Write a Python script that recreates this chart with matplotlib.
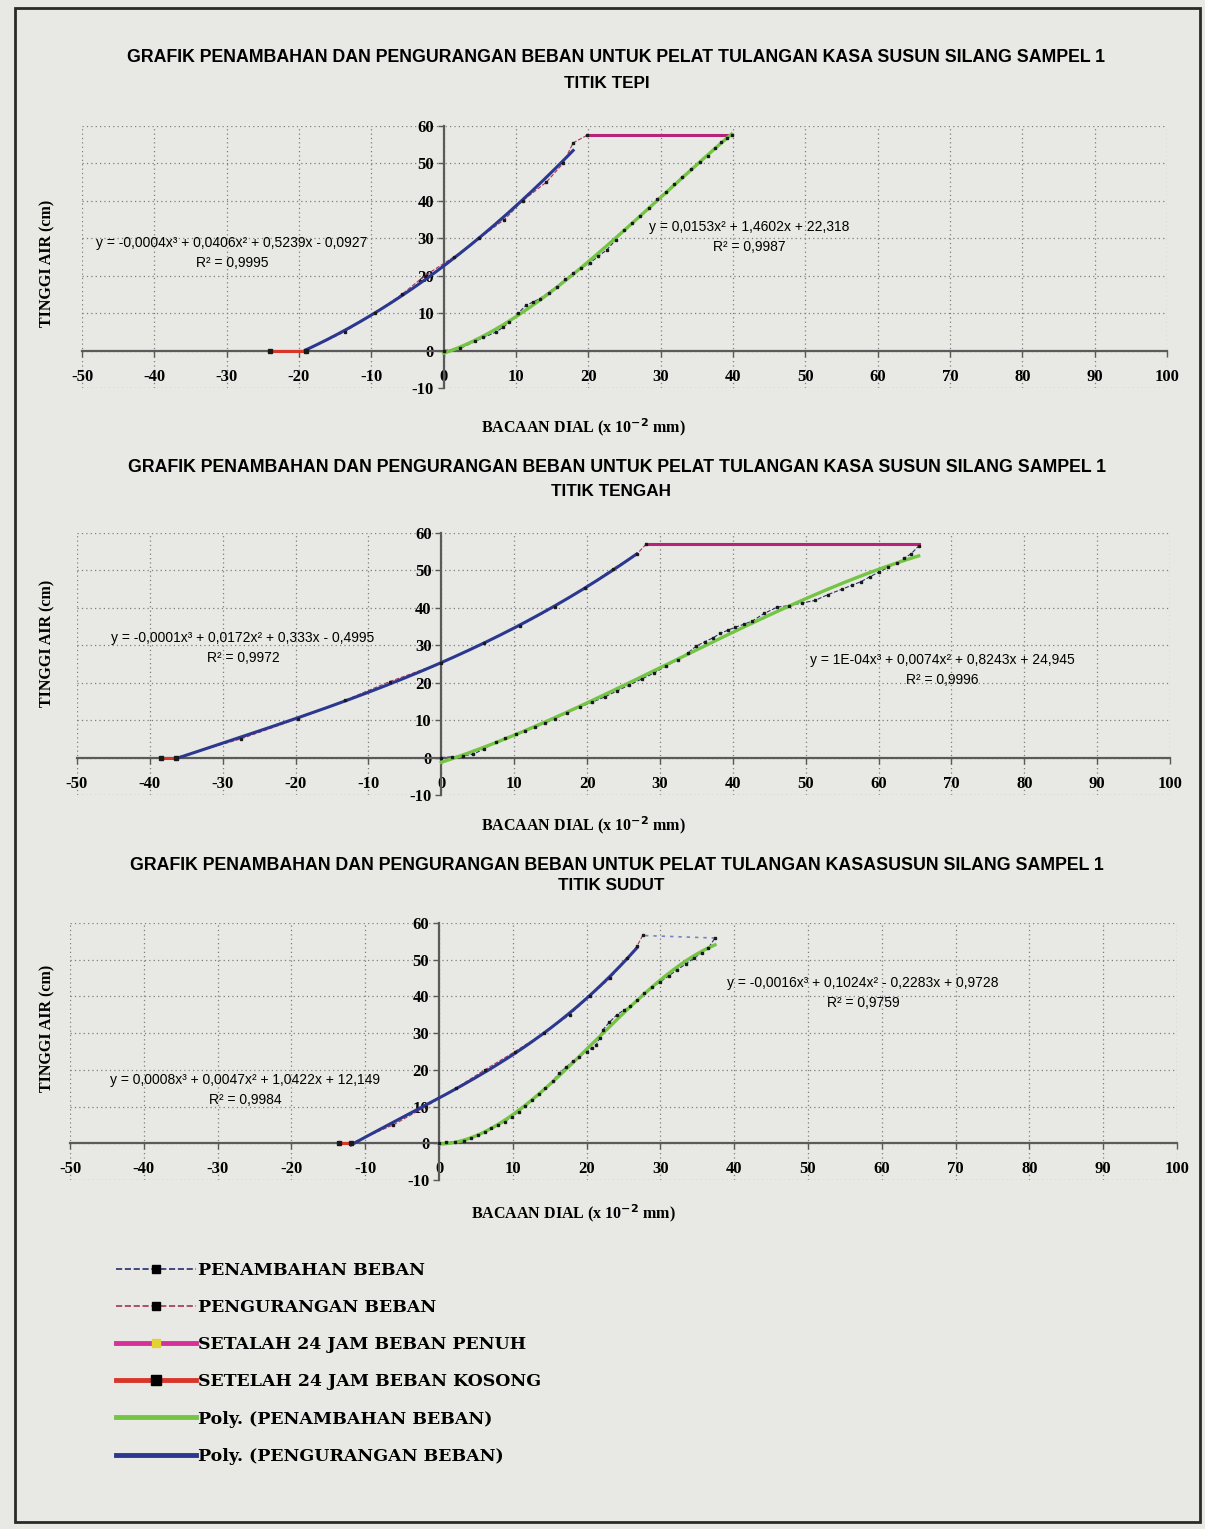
import matplotlib
matplotlib.use('Agg')
import matplotlib.pyplot as plt
from matplotlib.lines import Line2D
from matplotlib.patches import Rectangle
import numpy as np

W, H = 1205, 1529

# ---- data (x = dial reading x10^-2 mm, y = tinggi air cm)
x_ticks = list(range(-50, 101, 10))
y_ticks = list(range(-10, 61, 10))

# chart 1 - titik tepi
ld1_x = [0, 2.3, 4.4, 5.5, 7.2, 8.2, 9.1, 10.3, 11.4, 12.4, 13.3, 14.5, 15.6, 16.8, 17.9, 19.0, 20.2, 21.4,
         22.6, 23.8, 24.9, 26.0, 27.2, 28.4, 29.5, 30.7, 31.9, 33.0, 34.2, 35.4, 36.5, 37.5, 38.4, 39.2, 39.8]
ld1_y = [0, 0.6, 2.5, 3.5, 4.9, 6.2, 7.6, 10.0, 12.1, 13.0, 13.9, 15.5, 17.1, 19.0, 20.7, 22.0, 23.4, 25.2,
         27.0, 29.6, 32.3, 34.0, 35.9, 38.2, 40.4, 42.4, 44.5, 46.5, 48.5, 50.3, 52.1, 54.0, 55.7, 56.8, 57.5]
hold1_x = [39.8, 19.8]
hold1_y = [57.5, 57.5]
ul1_x = [19.8, 17.9, 16.5, 14.2, 10.9, 8.4, 4.9, 1.4, -2.6, -5.8, -9.5, -13.7, -19.1]
ul1_y = [57.5, 55.5, 50, 45, 40, 35, 30, 25, 20, 15, 10, 5, 0]
kos1_x = [-19.1, -24.0]
kos1_y = [0, 0]
eq1 = [("y = -0,0004x³ + 0,0406x² + 0,5239x - 0,0927", "R² = 0,9995"),
       ("y = 0,0153x² + 1,4602x + 22,318", "R² = 0,9987")]

# chart 2 - titik tengah
ld2_x = [0, 1.5, 3.0, 4.4, 5.8, 7.5, 8.8, 10.2, 11.5, 12.9, 14.2, 15.6, 17.3, 19.0, 20.7, 22.4, 24.1, 25.8,
         27.5, 29.2, 30.8, 32.5, 33.8, 35.0, 36.2, 37.3, 38.3, 39.3, 40.3, 41.5, 42.7, 44.3, 46.1, 47.7, 49.5,
         51.3, 53.0, 55.0, 56.3, 57.6, 58.8, 60.0, 61.3, 62.5, 63.5, 64.5, 65.5]
ld2_y = [0, 0.2, 0.5, 0.9, 2.3, 4.1, 5.2, 6.3, 7.2, 8.1, 9.2, 10.4, 12.0, 13.5, 14.8, 16.2, 17.8, 19.4,
         21.0, 22.6, 24.4, 26.2, 27.9, 29.8, 31.0, 32.0, 33.2, 34.0, 34.8, 35.6, 36.5, 38.5, 40.2, 40.6, 41.3,
         42.0, 43.5, 45.0, 46.0, 47.0, 48.3, 49.5, 50.8, 52.0, 53.2, 54.5, 56.5]
hold2_x = [65.5, 28.1]
hold2_y = [57, 57]
ul2_x = [28.1, 26.8, 23.6, 19.7, 15.6, 10.8, 5.8, 0, -7.1, -13.2, -19.7, -27.5, -36.4]
ul2_y = [57, 54.3, 50.5, 45.3, 40.3, 35.2, 30.5, 25.3, 20.3, 15.3, 10.4, 5, 0]
kos2_x = [-36.4, -38.5]
kos2_y = [0, 0]
eq2 = [("y = -0,0001x³ + 0,0172x² + 0,333x - 0,4995", "R² = 0,9972"),
       ("y = 1E-04x³ + 0,0074x² + 0,8243x + 24,945", "R² = 0,9996")]

# chart 3 - titik sudut
ld3_x = [0, 1.0, 2.2, 3.4, 4.4, 5.3, 6.2, 7.1, 8.0, 8.9, 9.9, 10.8, 11.7, 12.6, 13.5, 14.4, 15.4, 16.3, 17.2,
         18.1, 19.0, 20.0, 20.7, 21.3, 21.8, 22.2, 23.1, 24.1, 25.0, 25.9, 26.8, 27.8, 28.9, 30.0, 31.2, 32.3,
         33.5, 34.6, 35.6, 36.5, 37.4]
ld3_y = [0, 0.3, 0.4, 0.6, 1.4, 2.3, 3.2, 4.1, 5.0, 5.9, 7.2, 8.6, 10.2, 11.8, 13.4, 15.0, 17.0, 19.1, 20.7,
         22.3, 23.6, 25.0, 25.9, 26.8, 28.8, 30.9, 33.0, 35.0, 36.2, 37.3, 39.0, 40.9, 42.5, 44.0, 45.7, 47.3,
         48.9, 50.5, 51.9, 53.2, 55.9]
hold3_x = [37.4, 27.6]
hold3_y = [55.9, 56.6]
ul3_x = [27.6, 26.8, 25.5, 23.2, 20.4, 17.7, 14.2, 10.3, 6.2, 2.3, -1.8, -6.2, -11.9]
ul3_y = [56.6, 53.6, 50.5, 45, 40, 35, 30, 25, 20, 15, 10, 5, 0]
kos3_x = [-11.9, -13.6]
kos3_y = [0, 0]
eq3 = [("y = 0,0008x³ + 0,0047x² + 1,0422x + 12,149", "R² = 0,9984"),
       ("y = -0,0016x³ + 0,1024x² - 0,2283x + 0,9728", "R² = 0,9759")]

judul = "GRAFIK PENAMBAHAN DAN PENGURANGAN BEBAN UNTUK PELAT TULANGAN KASA SUSUN SILANG SAMPEL 1"
judul3 = "GRAFIK PENAMBAHAN DAN PENGURANGAN BEBAN UNTUK PELAT TULANGAN KASASUSUN SILANG SAMPEL 1"
titik = ["TITIK TEPI", "TITIK TENGAH", "TITIK SUDUT"]
legend_labels = ["PENAMBAHAN BEBAN", "PENGURANGAN BEBAN", "SETALAH 24 JAM BEBAN PENUH",
                 "SETELAH 24 JAM BEBAN KOSONG", "Poly. (PENAMBAHAN BEBAN)", "Poly. (PENGURANGAN BEBAN)"]

# colours
C_LD = '#26306e'
C_UL = '#a8325a'
C_PENUH = '#b8237a'
C_KOS = '#d9362a'
C_GREEN = '#74c544'
C_BLUE = '#2b3890'

plt.rcParams['font.family'] = 'Liberation Serif'
plt.rcParams['font.weight'] = 'bold'
plt.rcParams['axes.unicode_minus'] = False


def px(x, y):
    return x / W, 1 - y / H


def trend(x, y, deg):
    c = np.polyfit(x, y, deg)
    xs = np.linspace(min(x), max(x), 200)
    return xs, np.polyval(c, xs)


def chart(rect, ld, hold, ul, kos, deg_ld, deg_ul, hold_dashed=False):
    ax = fig.add_axes(rect)
    ax.set_facecolor('none')
    ax.set_xlim(-50, 100)
    ax.set_ylim(-10, 60)
    ax.set_xticks(x_ticks)
    ax.set_yticks(y_ticks)
    ax.grid(True, ls=(0, (1, 2.5)), color='#7d7d7d', lw=0.9, zorder=0)
    for s in ['top', 'right']:
        ax.spines[s].set_visible(False)
    ax.spines['left'].set_position(('data', 0))
    ax.spines['bottom'].set_position(('data', 0))
    for s in ['left', 'bottom']:
        ax.spines[s].set_color('#5a5a5a')
        ax.spines[s].set_linewidth(1.6)
    ax.tick_params(length=4, width=1, colors='#5a5a5a', labelcolor='black', labelsize=12)
    ax.tick_params(axis='x', pad=9)
    ax.tick_params(axis='y', pad=3)

    # raw data series
    ax.plot(ld[0], ld[1], ls='--', lw=0.8, color=C_LD, zorder=2)
    ax.plot(ul[0], ul[1], ls='--', lw=0.8, color=C_UL, zorder=2)
    if hold_dashed:
        ax.plot(hold[0], hold[1], ls=(0, (2, 3)), lw=1.2, color='#6f86c0', zorder=2)
    else:
        ax.plot(hold[0], hold[1], lw=2.2, color=C_PENUH, zorder=3)
    ax.plot(kos[0], kos[1], lw=2.2, color=C_KOS, zorder=3)

    # polynomial trend lines
    tx, ty = trend(ld[0], ld[1], deg_ld)
    ax.plot(tx, ty, color=C_GREEN, lw=2.4, zorder=3)
    tx, ty = trend(ul[0][1:], ul[1][1:], deg_ul)
    ax.plot(tx, ty, color=C_BLUE, lw=2.2, zorder=3)

    # markers on top
    ax.plot(ld[0], ld[1], ls='none', marker='s', ms=2.0, color='#1a1a1a', zorder=4)
    ax.plot(ul[0], ul[1], ls='none', marker='s', ms=2.0, color='#1a1a1a', zorder=4)
    ax.plot(kos[0], kos[1], ls='none', marker='s', ms=3.2, color='#1a1a1a', zorder=4)
    return ax


fig = plt.figure(figsize=(W / 100, H / 100), dpi=100)
fig.patch.set_facecolor('#e8e8e4')
fig.patches.append(Rectangle(px(15, 1522), (1200 - 15) / W, (1522 - 8) / H, transform=fig.transFigure,
                             fill=False, edgecolor='#2a2a2a', lw=2))

rects = [[82 / W, 1 - 388 / H, 1085 / W, 262 / H],
         [77 / W, 1 - 795 / H, 1093 / W, 262 / H],
         [70 / W, 1 - 1180 / H, 1107 / W, 257 / H]]

chart(rects[0], (ld1_x, ld1_y), (hold1_x, hold1_y), (ul1_x, ul1_y), (kos1_x, kos1_y), 3, 2)
chart(rects[1], (ld2_x, ld2_y), (hold2_x, hold2_y), (ul2_x, ul2_y), (kos2_x, kos2_y), 3, 3)
chart(rects[2], (ld3_x, ld3_y), (hold3_x, hold3_y), (ul3_x, ul3_y), (kos3_x, kos3_y), 3, 3, hold_dashed=True)

# titles
title_pos = [(616, 58, 607, 84), (617, 467, 611, 491), (617, 865, 611, 885)]
for i, (a, b, c, d) in enumerate(title_pos):
    fig.text(*px(a, b), judul3 if i == 2 else judul, ha='center', va='center',
             family='Liberation Sans', weight='bold', size=12.8)
    fig.text(*px(c, d), titik[i], ha='center', va='center', family='Liberation Sans', weight='bold', size=12.3)

# axis labels
for xl, yl in [((583, 427), 263), ((583, 825), 643), ((573, 1213), 1028)]:
    fig.text(*px(*xl), "BACAAN DIAL (x 10$^{-2}$ mm)", ha='center', va='center', size=11.5)
    fig.text(*px(47, yl), "TINGGI AIR (cm)", ha='center', va='center', size=11.5, rotation=90)

# trendline equations
eq_pos = [[(232, 243), (749, 227)], [(243, 638), (942, 660)], [(245, 1080), (863, 983)]]
for eqs, pos in zip([eq1, eq2, eq3], eq_pos):
    for (e, r), (x, y) in zip(eqs, pos):
        fig.text(*px(x, y), e, ha='center', va='center', family='Liberation Sans', weight='normal', size=10)
        fig.text(*px(x, y + 20), r, ha='center', va='center', family='Liberation Sans', weight='normal', size=10)

# legend
handles = [Line2D([], [], color=C_LD, ls='--', lw=1.2, marker='s', ms=6, mfc='k', mec='k'),
           Line2D([], [], color=C_UL, ls='--', lw=1.2, marker='s', ms=6, mfc='k', mec='k'),
           Line2D([], [], color='#d8309a', lw=3.5, marker='s', ms=6, mfc='#e3d233', mec='#e3d233'),
           Line2D([], [], color=C_KOS, lw=3.5, marker='s', ms=7, mfc='k', mec='k'),
           Line2D([], [], color=C_GREEN, lw=3.5),
           Line2D([], [], color=C_BLUE, lw=3.5)]
fig.legend(handles, legend_labels, loc='upper left', bbox_to_anchor=px(116, 1262), frameon=False,
           borderaxespad=0, borderpad=0, handlelength=4.6, handletextpad=0.1, labelspacing=1.16,
           prop={'family': 'DejaVu Serif', 'weight': 'bold', 'size': 12.5})

plt.savefig('out.png', dpi=100, facecolor=fig.get_facecolor())
